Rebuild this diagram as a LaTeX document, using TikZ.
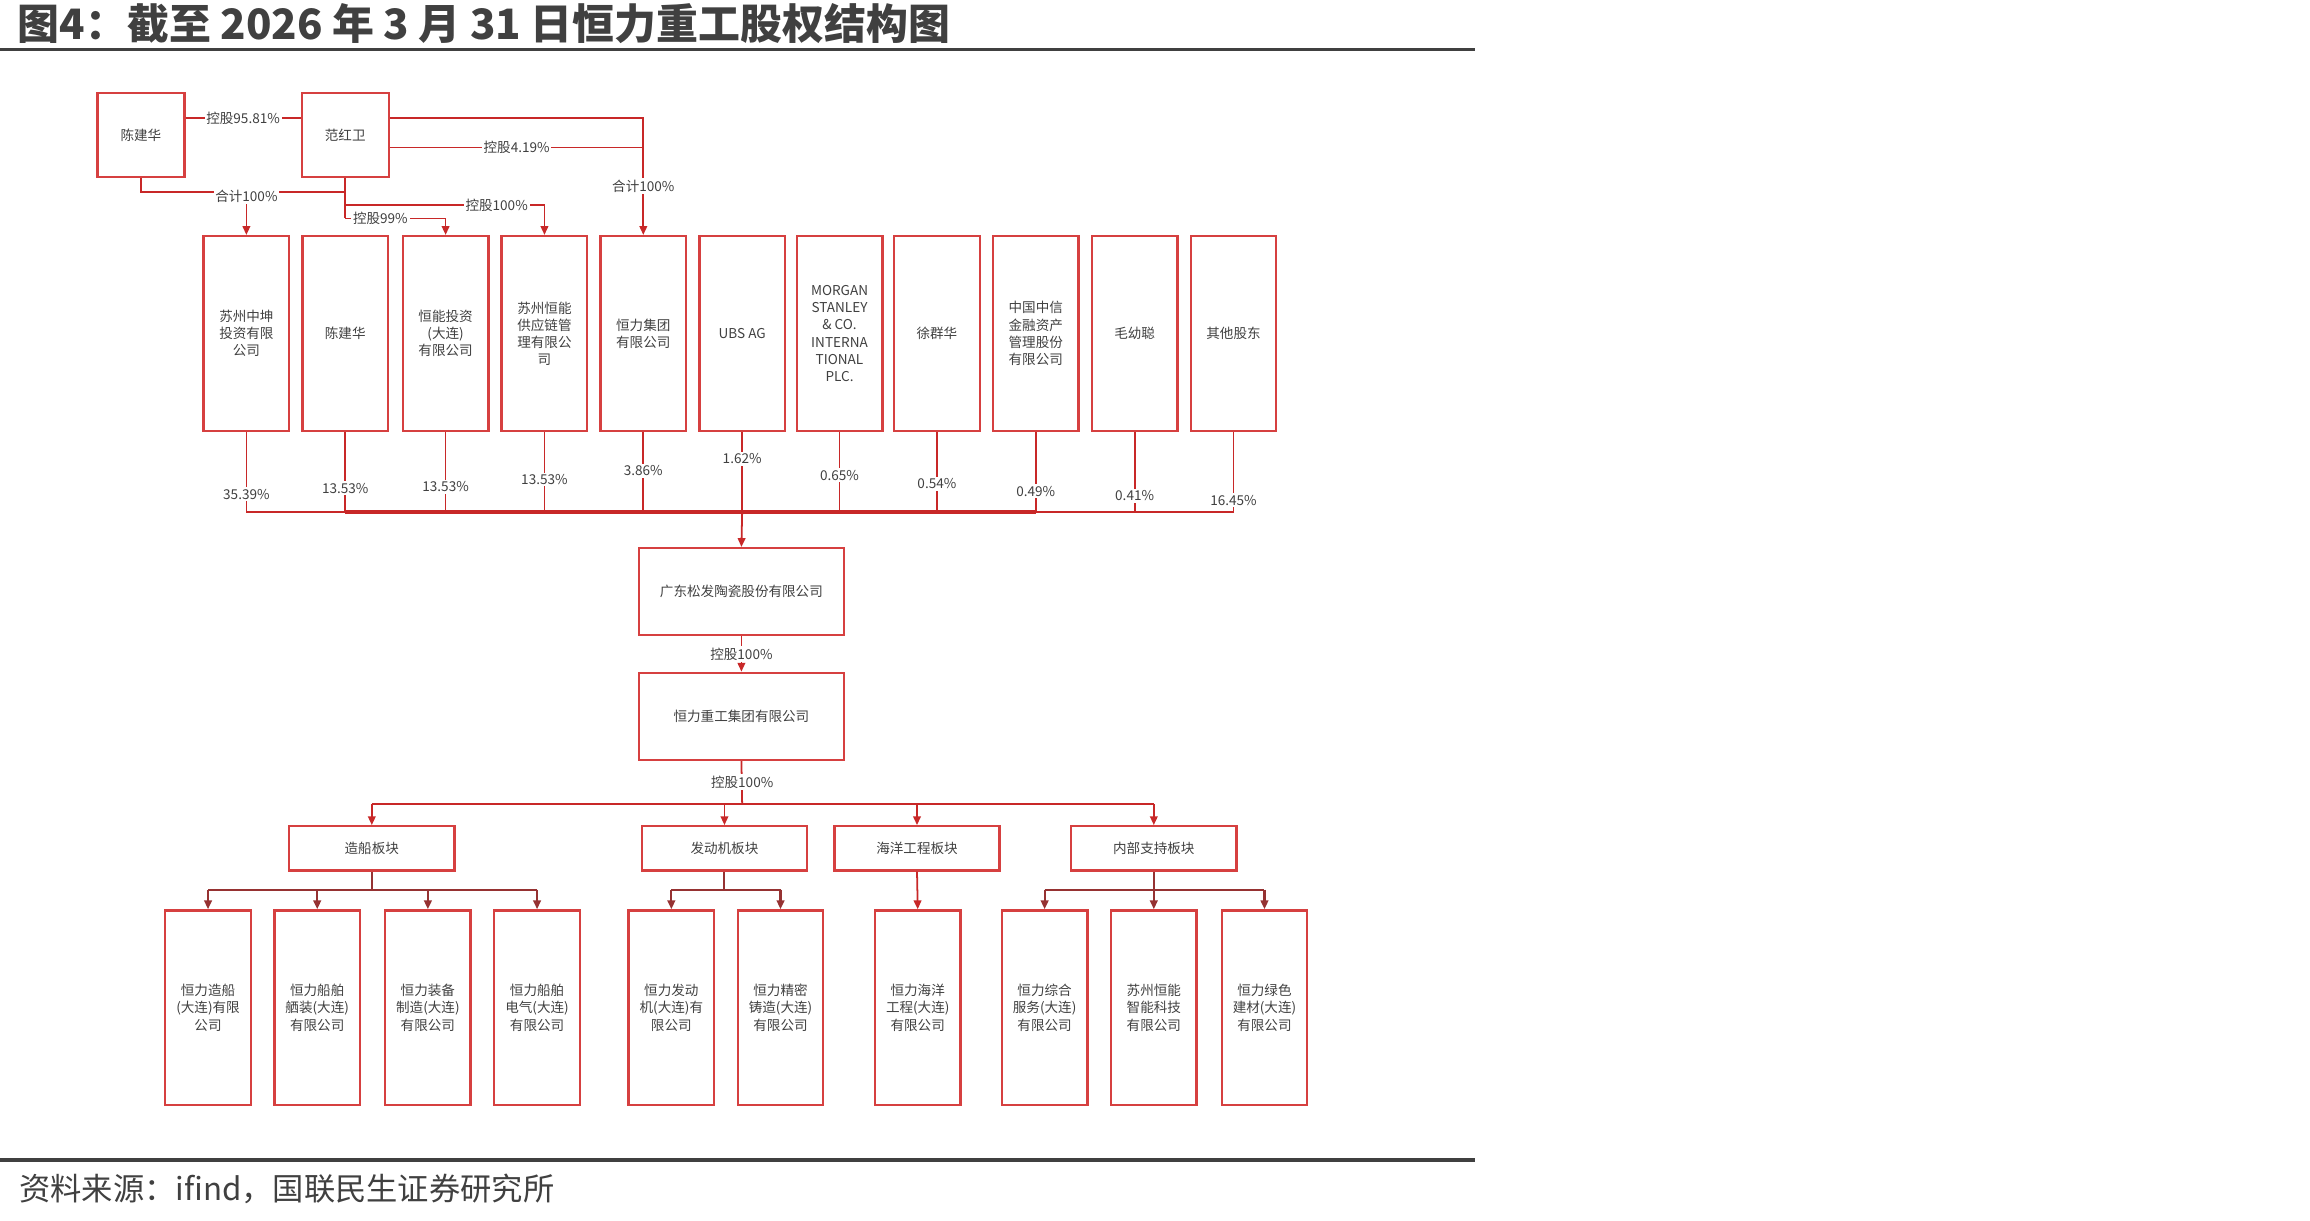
\documentclass[tikz,border=0pt]{standalone}
\usepackage{fontspec}
\setmainfont{Noto Sans CJK SC}
\usetikzlibrary{arrows.meta}
\definecolor{bred}{RGB}{214,64,64}
\definecolor{lred}{RGB}{200,40,40}
\definecolor{dred}{RGB}{150,50,50}
\definecolor{tgray}{RGB}{64,64,64}
\begin{document}
\begin{tikzpicture}[x=0.5pt,y=-0.5pt,
  box/.style={draw=bred,line width=0.8pt,inner sep=0pt,align=center,font=\fontsize{4.6}{5.8}\selectfont,text=tgray},
  tall/.style={box,minimum width=29pt,minimum height=66pt},
  wide/.style={box,minimum width=69.5pt,minimum height=29.5pt},
  seg/.style={box,minimum width=56pt,minimum height=15pt},
  lab/.style={fill=white,inner sep=0.6pt,font=\fontsize{4.6}{5.5}\selectfont,text=tgray},
  ln/.style={draw=lred,line width=0.6pt},
  arr/.style={ln,-{Triangle[length=3pt,width=2.6pt]}},
  dln/.style={draw=dred,line width=0.7pt},
  darr/.style={dln,-{Triangle[length=3pt,width=2.6pt]}}]
\useasboundingbox (0,0) rectangle (1565.6,826.9);
% title & rules
\node[anchor=west,font=\fontsize{14.2}{15}\selectfont\bfseries,text=tgray] (title) at (5,16) {图4：截至 2026 年 3 月 31 日恒力重工股权结构图};
\draw[tgray,line width=1.2pt] (0,33.5) -- (1000,33.5);
\draw[tgray,line width=1.2pt] (0,786) -- (1000,786);
\node[anchor=west,font=\fontsize{10.6}{11}\selectfont,text=tgray] (src) at (6,806) {资料来源：ifind，国联民生证券研究所};
% top persons
\node[box,minimum width=29.5pt,minimum height=28.5pt] (cjh0) at (95.5,91.5) {陈建华};
\node[box,minimum width=29.5pt,minimum height=28.5pt] (fhw) at (234,91.5) {范红卫};
% shareholders
\foreach \n/\x/\t in {s1/167/苏州中坤\\投资有限\\公司, s2/234/陈建华, s3/302/恒能投资\\(大连)\\有限公司, s4/369/苏州恒能\\供应链管\\理有限公\\司, s5/436/恒力集团\\有限公司, s6/503/UBS AG, s7/569/MORGAN\\STANLEY\\\& CO.\\INTERNA\\TIONAL\\PLC., s8/635/徐群华, s9/702/中国中信\\金融资产\\管理股份\\有限公司, s10/769/毛幼聪, s11/836/其他股东}
  \node[tall] (\n) at (\x,226) {\t};
% top connections
\draw[ln] (cjh0.east |- 0,80) -- node[lab]{控股95.81\%} (fhw.west |- 0,80);
\coordinate (c1) at (436,80);
\draw[arr] (fhw.east |- 0,80) -- (c1) -- node[lab,pos=0.58]{合计100\%} (s5.north);
\draw[ln] (fhw.east |- 0,100) -- node[lab]{控股4.19\%} (436,100);
\coordinate (c2) at (95.5,130);
\draw[ln] (cjh0.south) -- (c2) -- (234,130);
\draw[arr] (167,130) -- (s1.north);
\node[lab] at (167,133) {合计100\%};
\draw[ln] (fhw.south) -- (234,148);
\draw[arr] (234,139) -- node[lab,pos=0.76]{控股100\%} (369,139) -- (s4.north);
\draw[arr] (234,148) -- node[lab,pos=0.35]{控股99\%} (302,148) -- (s3.north);
% bus
\coordinate (bus) at (503,347);
\foreach \n/\y/\p in {s1/335/35.39, s2/331/13.53, s3/330/13.53, s4/325/13.53, s5/319/3.86, s6/311/1.62, s7/322/0.65, s8/328/0.54, s9/333/0.49, s10/336/0.41, s11/339/16.45}{
  \draw[ln] (\n.south) -- (\n.south |- bus);
  \node[lab] at (\n.south |- 0,\y) {\p\%};
}
\draw[draw=lred,line width=0.6pt] (167,347) -- (836,347);
\draw[draw=lred,line width=1.3pt] (234,347) -- (702,347);
\node[wide] (gd) at (502.5,401) {广东松发陶瓷股份有限公司};
\draw[arr] (bus) -- (gd.north);
\node[wide] (hl) at (502.5,485.5) {恒力重工集团有限公司};
\draw[arr] (gd.south) -- node[lab]{控股100\%} (hl.north);
% segments
\node[seg] (g1) at (252,575) {造船板块};
\node[seg] (g2) at (491,575) {发动机板块};
\node[seg] (g3) at (621.5,575) {海洋工程板块};
\node[seg] (g4) at (782,575) {内部支持板块};
\coordinate (b2) at (503,545);
\draw[ln] (hl.south) -- (b2);
\node[lab] at (503,530) {控股100\%};
\draw[ln] (252,545) -- (782,545);
\foreach \g in {g1,g2,g3,g4} \draw[arr] (\g.north |- b2) -- (\g.north);
% subsidiaries
\foreach \n/\x/\t in {t1/141/恒力造船\\(大连)有限\\公司, t2/215/恒力船舶\\舾装(大连)\\有限公司, t3/290/恒力装备\\制造(大连)\\有限公司, t4/364/恒力船舶\\电气(大连)\\有限公司, t5/455/恒力发动\\机(大连)有\\限公司, t6/529/恒力精密\\铸造(大连)\\有限公司, t7/622/恒力海洋\\工程(大连)\\有限公司, t8/708/恒力综合\\服务(大连)\\有限公司, t9/782/苏州恒能\\智能科技\\有限公司, t10/857/恒力绿色\\建材(大连)\\有限公司}
  \node[tall] (\n) at (\x,683) {\t};
\coordinate (r1) at (252,603);
\draw[dln] (g1.south) -- (r1);
\draw[dln] (141,603) -- (364,603);
\foreach \n in {t1,t2,t3,t4} \draw[darr] (\n.north |- r1) -- (\n.north);
\draw[dln] (g2.south) -- (491,603);
\draw[dln] (455,603) -- (529,603);
\foreach \n in {t5,t6} \draw[darr] (\n.north |- r1) -- (\n.north);
\draw[arr] (g3.south) -- (t7.north);
\draw[dln] (g4.south) -- (782,603);
\draw[dln] (708,603) -- (857,603);
\foreach \n in {t8,t9,t10} \draw[darr] (\n.north |- r1) -- (\n.north);
\end{tikzpicture}
\end{document}
